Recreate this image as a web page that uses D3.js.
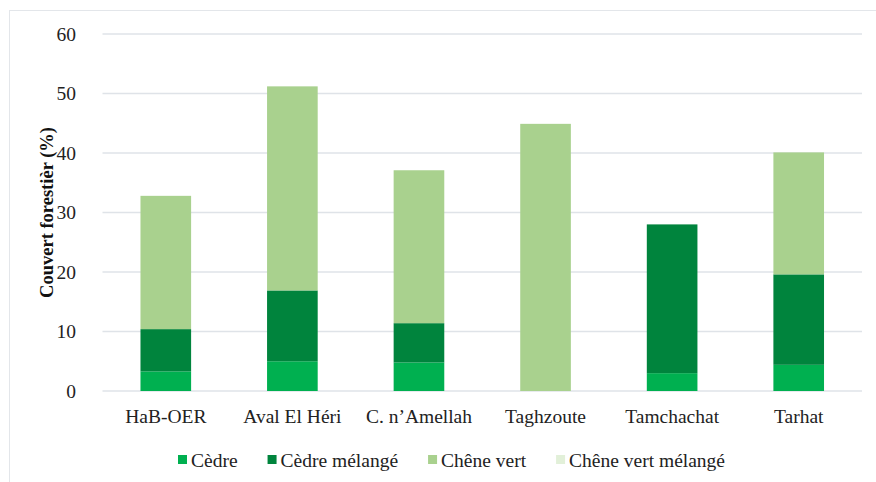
<!DOCTYPE html>
<html><head><meta charset="utf-8">
<script src="https://cdn.jsdelivr.net/npm/d3@7/dist/d3.min.js"></script>
</head><body style="margin:0;background:#fff"><svg id="c" width="876" height="482"></svg>
<script>
const categories = ["HaB-OER","Aval El Héri","C. n’Amellah","Taghzoute","Tamchachat","Tarhat"];
const seriesNames = ["Cèdre","Cèdre mélangé","Chêne vert","Chêne vert mélangé"];
const cedre = [3.3, 5.0, 4.8, 0, 3.0, 4.4];
const cedreMelange = [7.1, 11.9, 6.6, 0, 25.0, 15.2];
const cheneVert = [22.4, 34.3, 25.7, 44.9, 0, 20.5];
const cheneVertMelange = [0, 0, 0, 0, 0, 0];
const yTicks = [0,10,20,30,40,50,60];
const colors = ["#00B050","#00843D","#A9D18E","#E2F0D9"];
const FONT = "Liberation Serif";
const FS = 19.5;

const svg = d3.select("#c");
svg.append("rect").attr("x",9.5).attr("y",10.5).attr("width",900).attr("height",500)
  .attr("fill","none").attr("stroke","#e3e6ea").attr("stroke-width",1);

const L=102.5, R=862, T=34, B=391;
const x = d3.scaleBand().domain(categories).range([L,R]).paddingInner(0.6).paddingOuter(0.3);
const y = d3.scaleLinear().domain([0,60]).range([B,T]);

svg.append("g").selectAll("line").data(yTicks).join("line")
  .attr("x1",L).attr("x2",R).attr("y1",d=>y(d)).attr("y2",d=>y(d))
  .attr("stroke","#dfe3e8").attr("stroke-width",1.3);

const rows = categories.map((c,i)=>({cat:c,"Cèdre":cedre[i],"Cèdre mélangé":cedreMelange[i],"Chêne vert":cheneVert[i],"Chêne vert mélangé":cheneVertMelange[i]}));
const stack = d3.stack().keys(seriesNames)(rows);
svg.append("g").selectAll("g").data(stack).join("g").attr("fill",(d,i)=>colors[i])
  .selectAll("rect").data(d=>d).join("rect")
  .attr("x",d=>x(d.data.cat)).attr("width",x.bandwidth())
  .attr("y",d=>y(d[1])).attr("height",d=>Math.max(0,y(d[0])-y(d[1])));

const yAxis = d3.axisLeft(y).tickValues(yTicks).tickSize(0).tickPadding(0);
const ya = svg.append("g").attr("transform",`translate(76,0)`).call(yAxis)
  .attr("font-family",FONT).attr("font-size",FS);
ya.select(".domain").remove();
ya.selectAll("text").attr("font-family",FONT).attr("font-size",FS).attr("fill","#222").attr("dy","0.33em");

const xAxis = d3.axisBottom(x).tickSize(0).tickPadding(0);
const xa = svg.append("g").attr("transform",`translate(0,423)`).call(xAxis)
  .attr("font-family",FONT).attr("font-size",FS);
xa.select(".domain").remove();
xa.selectAll("text").attr("font-family",FONT).attr("font-size",FS).attr("fill","#222").attr("y",0).attr("dy",0);

svg.append("text").attr("transform",`translate(53,${(T+B)/2}) rotate(-90)`)
  .attr("font-family",FONT)
  .attr("text-anchor","middle").attr("font-size",18.5).attr("font-weight","bold").attr("fill","#111")
  .text("Couvert forestièr (%)");

const lg = svg.append("g");
let lx = 178; const ly = 459.5;
seriesNames.forEach((s,i)=>{
  lg.append("rect").attr("x",lx).attr("y",ly-4.5).attr("width",9).attr("height",9).attr("fill",colors[i]);
  const t = lg.append("text").attr("x",lx+13).attr("y",466.5).attr("font-family",FONT).attr("font-size",FS).attr("fill","#222").text(s);
  lx += 13 + t.node().getComputedTextLength() + 30;
});
</script></body></html>
